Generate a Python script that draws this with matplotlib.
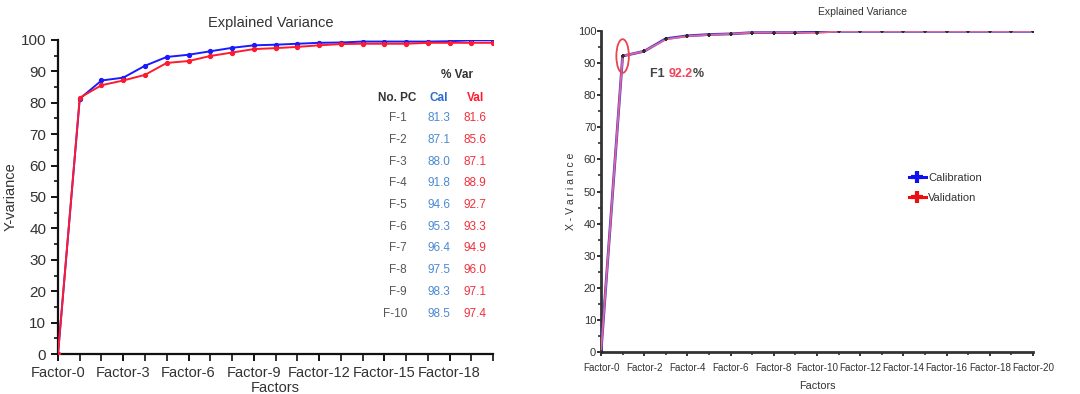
import matplotlib
matplotlib.use("Agg")
import matplotlib.pyplot as plt
from matplotlib.patches import Ellipse
from matplotlib.lines import Line2D
from matplotlib.ticker import MultipleLocator, FixedLocator

# ---- data ----
factors = list(range(21))

y_cal = [0, 81.3, 87.1, 88.0, 91.8, 94.6, 95.3, 96.4, 97.5, 98.3, 98.5,
         98.8, 99.1, 99.2, 99.5, 99.5, 99.5, 99.5, 99.6, 99.9, 99.9]
y_val = [0, 81.6, 85.6, 87.1, 88.9, 92.7, 93.3, 94.9, 96.0, 97.1, 97.4,
         97.8, 98.3, 98.7, 98.8, 98.8, 98.8, 99.1, 99.1, 99.1, 99.1]

x_cal = [0, 92.2, 93.7, 97.6, 98.5, 98.9, 99.1, 99.5, 99.5, 99.5, 99.7,
         99.9, 99.9, 99.9, 99.9, 99.9, 99.9, 99.9, 99.9, 99.9, 99.9]
x_val = [0, 92.2, 93.7, 97.4, 98.4, 98.8, 99.1, 99.5, 99.5, 99.5, 99.4,
         99.9, 99.9, 99.9, 99.9, 99.9, 99.9, 99.9, 99.9, 99.9, 99.9]

table_rows = [f"F-{i}" for i in range(1, 11)]

left_ticks = [0, 3, 6, 9, 12, 15, 18]
right_ticks = list(range(0, 21, 2))

BLUE = "#1a1aff"
RED = "#ff1a2e"
TXT = "#333333"
SANS = ["Liberation Sans", "DejaVu Sans"]
NARROW = ["Liberation Sans Narrow", "Liberation Sans", "DejaVu Sans"]

fig = plt.figure(figsize=(10.8, 3.94), dpi=100)

# ---------------- left panel: Y-variance ----------------
ax = fig.add_axes([0.0537, 0.1015, 0.4028, 0.797])
ax.plot(factors, y_cal, color=BLUE, lw=1.4, marker="o", ms=2.8, zorder=3)
ax.plot(factors, y_val, color=RED, lw=1.4, marker="o", ms=2.8, zorder=4)
ax.set_xlim(0, 20)
ax.set_ylim(0, 100)
for s in ("top", "right"):
    ax.spines[s].set_visible(False)
for s in ("left", "bottom"):
    ax.spines[s].set_linewidth(1.6)
    ax.spines[s].set_color("#111111")
ax.xaxis.set_major_locator(FixedLocator(left_ticks))
ax.xaxis.set_minor_locator(MultipleLocator(1))
ax.set_xticklabels([f"Factor-{t}" for t in left_ticks], family=SANS,
                   fontsize=10.5, color=TXT)
ax.yaxis.set_major_locator(MultipleLocator(10))
ax.yaxis.set_minor_locator(MultipleLocator(5))
for lab in ax.get_yticklabels():
    lab.set_family(SANS)
    lab.set_fontsize(11)
    lab.set_color(TXT)
ax.tick_params(axis="both", which="both", direction="out", color="#111111")
ax.tick_params(axis="both", which="major", length=5, width=1.4)
ax.tick_params(axis="x", which="minor", length=5, width=1.2)
ax.tick_params(axis="y", which="minor", length=3, width=1.2)
ax.set_xlabel("Factors", family=SANS, fontsize=10.5, color=TXT, labelpad=1)
ax.set_ylabel("Y-variance", family=SANS, fontsize=10.5, color=TXT, labelpad=2)
ax.text(0.49, 1.055, "Explained Variance", transform=ax.transAxes,
        family=SANS, fontsize=10.5, color=TXT, ha="center", va="center")

# table of cumulative explained variance
tr = ax.transAxes
x_lab, x_c, x_v = 0.802, 0.876, 0.959
ax.text(0.917, 0.888, "% Var", transform=tr, family=SANS, fontsize=8.5,
        fontweight="bold", color=TXT, ha="center", va="center")
ax.text(0.779, 0.816, "No. PC", transform=tr, family=SANS, fontsize=8.5,
        fontweight="bold", color=TXT, ha="center", va="center")
ax.text(x_c, 0.816, "Cal", transform=tr, family=SANS, fontsize=8.5,
        fontweight="bold", color="#2a6fd0", ha="center", va="center")
ax.text(x_v, 0.816, "Val", transform=tr, family=SANS, fontsize=8.5,
        fontweight="bold", color=RED, ha="center", va="center")
row_step = 0.069
for i, name in enumerate(table_rows):
    yy = 0.75 - i * row_step
    ax.text(x_lab, yy, name, transform=tr, family=SANS, fontsize=8.5,
            color="#555555", ha="right", va="center")
    ax.text(x_c, yy, f"{y_cal[i + 1]:.1f}", transform=tr, family=SANS,
            fontsize=8.5, color="#4a8ad4", ha="center", va="center")
    ax.text(x_v, yy, f"{y_val[i + 1]:.1f}", transform=tr, family=SANS,
            fontsize=8.5, color="#f0303c", ha="center", va="center")

# ---------------- right panel: X-variance ----------------
bx = fig.add_axes([0.5565, 0.1066, 0.400, 0.8147])
bx.plot(factors, x_cal, color="#3333dd", lw=2.0, zorder=3,
        marker="+", ms=3, mec="#222222", mew=1.2)
bx.plot(factors, x_val, color="#ff6f8a", lw=1.3, alpha=0.85, zorder=4,
        marker="+", ms=3, mec="#222222", mew=1.2)
bx.set_xlim(0, 20)
bx.set_ylim(0, 100)
for s in ("top", "right"):
    bx.spines[s].set_visible(False)
for s in ("left", "bottom"):
    bx.spines[s].set_linewidth(2.0)
    bx.spines[s].set_color("#333333")
bx.xaxis.set_major_locator(FixedLocator(right_ticks))
bx.xaxis.set_minor_locator(MultipleLocator(1))
bx.set_xticklabels([f"Factor-{t}" for t in right_ticks], family=NARROW,
                   fontsize=7.1, color=TXT)
bx.yaxis.set_major_locator(MultipleLocator(10))
bx.yaxis.set_minor_locator(MultipleLocator(5))
for lab in bx.get_yticklabels():
    lab.set_family(NARROW)
    lab.set_fontsize(8)
    lab.set_color(TXT)
bx.tick_params(axis="both", which="both", direction="out", color="#333333")
bx.tick_params(axis="x", which="major", length=3, width=1.4, pad=5)
bx.tick_params(axis="y", which="major", length=3, width=1.4, pad=0.5)
bx.tick_params(axis="both", which="minor", length=2.5, width=1.2)
bx.set_xlabel("Factors", family=NARROW, fontsize=7.8, color=TXT, labelpad=6)
bx.set_ylabel("X - V a r i a n c e", family=NARROW, fontsize=7.5, color=TXT,
              labelpad=1)
bx.text(0.606, 1.058, "Explained Variance", transform=bx.transAxes,
        family=NARROW, fontsize=7.5, color=TXT, ha="center", va="center")

# first-factor highlight
bx.add_patch(Ellipse((1, x_cal[1]), 0.58, 10.5, fill=False, ec="#e8454f",
                     lw=1.3, zorder=5))
t1 = bx.text(2.27, 86.6, "F1 ", family=SANS, fontsize=9, fontweight="bold",
             color="#444444", ha="left", va="center")
t2 = bx.annotate(f"{x_cal[1]:.1f}", xy=(1, 0.5), xycoords=t1, family=SANS,
                 fontsize=9, fontweight="bold", color="#ee4455",
                 ha="left", va="center")
bx.annotate("%", xy=(1, 0.5), xycoords=t2, family=SANS, fontsize=9,
            fontweight="bold", color="#444444", ha="left", va="center")

# legend
handles = [
    Line2D([], [], color="#1010ee", lw=2.2, marker="+", ms=8, mew=3,
           mec="#1010ee"),
    Line2D([], [], color="#ee1010", lw=2.2, marker="+", ms=8, mew=3,
           mec="#ee1010"),
]
leg = bx.legend(handles, ["Calibration", "Validation"], loc="upper left",
                bbox_to_anchor=(0.69, 0.59), frameon=False, handlelength=1.5,
                handletextpad=0.2, labelspacing=0.9,
                prop={"family": NARROW, "size": 8})
for t in leg.get_texts():
    t.set_color(TXT)

fig.savefig("out.png", dpi=100)
